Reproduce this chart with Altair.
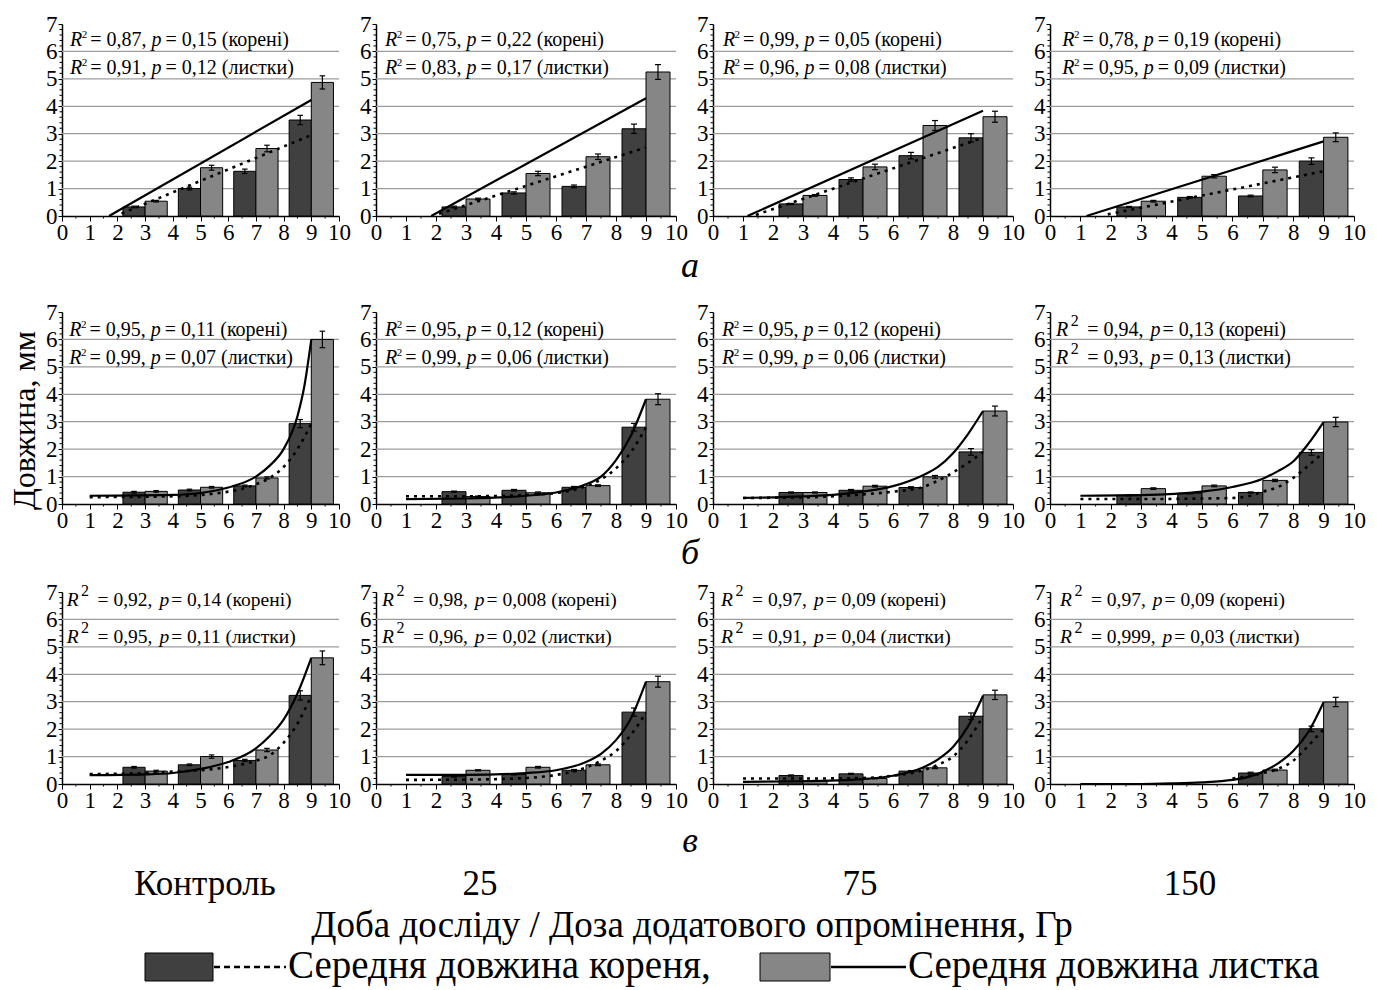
import altair as alt
import pandas as pd

FONT = "Liberation Serif"
ROOT_FILL = "#404040"
LEAF_FILL = "#868686"
GRID_COLOR = "#9c9c9c"

# ---------------- data ----------------
row_letters = ["а", "б", "в"]
doses = ["Контроль", "25", "75", "150"]
days = [2, 4, 6, 8]
x_ticks = list(range(0, 11))
y_ticks = list(range(0, 8))
grid_levels = [1, 2, 3, 4, 5, 6]
y_minor = [0.2, 0.4, 0.6, 0.8, 1.2, 1.4, 1.6, 1.8, 2.2, 2.4, 2.6, 2.8, 3.2, 3.4, 3.6, 3.8,
           4.2, 4.4, 4.6, 4.8, 5.2, 5.4, 5.6, 5.8, 6.2, 6.4, 6.6, 6.8]
x_minor = [0.5, 1.5, 2.5, 3.5, 4.5, 5.5, 6.5, 7.5, 8.5, 9.5]

# mean lengths [row][column][day]
root_mean = [
    [[0.33, 1.00, 1.63, 3.50], [0.33, 0.84, 1.08, 3.18], [0.44, 1.33, 2.20, 2.85], [0.33, 0.68, 0.73, 2.00]],
    [[0.43, 0.51, 0.66, 2.93], [0.45, 0.50, 0.61, 2.80], [0.42, 0.50, 0.60, 1.90], [0.32, 0.39, 0.42, 1.88]],
    [[0.61, 0.70, 0.86, 3.23], [0.27, 0.35, 0.50, 2.62], [0.31, 0.37, 0.47, 2.47], [0.00, 0.00, 0.40, 2.01]],
]
root_err = [
    [[0.03, 0.05, 0.08, 0.17], [0.03, 0.04, 0.05, 0.17], [0.02, 0.06, 0.12, 0.15], [0.02, 0.03, 0.03, 0.12]],
    [[0.03, 0.03, 0.03, 0.15], [0.02, 0.03, 0.03, 0.14], [0.02, 0.03, 0.03, 0.12], [0.02, 0.02, 0.02, 0.10]],
    [[0.03, 0.03, 0.04, 0.17], [0.02, 0.02, 0.03, 0.15], [0.02, 0.02, 0.02, 0.12], [0.00, 0.00, 0.03, 0.10]],
]
leaf_mean = [
    [[0.54, 1.76, 2.46, 4.87], [0.62, 1.55, 2.16, 5.25], [0.75, 1.79, 3.30, 3.62], [0.54, 1.45, 1.68, 2.87]],
    [[0.46, 0.61, 0.95, 6.00], [0.27, 0.41, 0.67, 3.82], [0.42, 0.65, 0.99, 3.39], [0.56, 0.66, 0.86, 2.99]],
    [[0.47, 1.00, 1.24, 4.60], [0.50, 0.61, 0.70, 3.73], [0.12, 0.20, 0.59, 3.25], [0.00, 0.00, 0.51, 2.99]],
]
leaf_err = [
    [[0.03, 0.09, 0.12, 0.24], [0.03, 0.08, 0.10, 0.27], [0.03, 0.10, 0.18, 0.20], [0.03, 0.06, 0.10, 0.16]],
    [[0.03, 0.03, 0.04, 0.30], [0.02, 0.03, 0.03, 0.20], [0.02, 0.03, 0.05, 0.18], [0.03, 0.03, 0.04, 0.17]],
    [[0.03, 0.06, 0.06, 0.25], [0.02, 0.03, 0.03, 0.20], [0.01, 0.01, 0.03, 0.17], [0.00, 0.00, 0.03, 0.17]],
]

# trend lines: (x list, y list)
root_trend = [
    [([2.15, 9], [0.09, 2.95]), ([2.1, 9], [0.08, 2.5]), ([1.43, 9], [0.04, 2.85]), ([1.9, 9], [0.06, 1.63])],
    [
        ([1, 4, 5, 6, 6.5, 7, 7.5, 8, 8.5, 9], [0.25, 0.28, 0.33, 0.45, 0.55, 0.72, 0.95, 1.35, 2.0, 2.93]),
        ([1, 3, 5, 6, 7, 7.5, 8, 8.5, 9], [0.28, 0.28, 0.33, 0.4, 0.65, 0.9, 1.3, 1.9, 2.8]),
        ([1, 3, 5, 6, 7, 7.5, 8, 8.5, 9], [0.22, 0.24, 0.35, 0.45, 0.62, 0.85, 1.15, 1.5, 1.9]),
        ([1, 3, 5, 6, 6.5, 7, 7.5, 8, 8.5, 9], [0.18, 0.18, 0.2, 0.22, 0.28, 0.45, 0.62, 0.95, 1.4, 1.88]),
    ],
    [
        ([1, 3, 4, 5, 6, 7, 7.5, 8, 8.5, 9], [0.36, 0.4, 0.45, 0.5, 0.62, 0.85, 1.05, 1.5, 2.2, 3.23]),
        ([1, 3, 5, 6, 7, 7.5, 8, 8.5, 9], [0.15, 0.16, 0.22, 0.33, 0.6, 0.85, 1.2, 1.8, 2.6]),
        ([1, 3, 5, 6, 7, 7.5, 8, 8.5, 9], [0.2, 0.2, 0.22, 0.3, 0.5, 0.7, 1.0, 1.6, 2.47]),
        ([6, 6.5, 7, 7.5, 8, 8.5, 9], [0.2, 0.28, 0.4, 0.55, 0.85, 1.4, 2.0]),
    ],
]
leaf_trend = [
    [([1.7, 9], [0.0, 4.23]), ([1.84, 9], [0.0, 4.29]), ([1.15, 9], [0.0, 3.84]), ([1.2, 9], [0.0, 2.72])],
    [
        ([1, 4, 5, 6, 7, 7.5, 8, 8.5, 8.75, 9], [0.3, 0.33, 0.4, 0.6, 1.0, 1.4, 2.0, 3.2, 4.3, 6.0]),
        ([1, 3, 5, 6, 7, 7.5, 8, 8.5, 9], [0.18, 0.2, 0.3, 0.42, 0.72, 1.0, 1.6, 2.5, 3.82]),
        ([1, 3, 4, 5, 6, 7, 7.5, 8, 8.5, 9], [0.22, 0.28, 0.33, 0.45, 0.65, 1.05, 1.35, 1.85, 2.55, 3.39]),
        ([1, 3, 5, 6, 7, 7.5, 8, 8.5, 9], [0.3, 0.32, 0.45, 0.62, 0.92, 1.2, 1.55, 2.2, 2.99]),
    ],
    [
        ([1, 3, 4, 5, 6, 7, 7.5, 8, 8.5, 9], [0.32, 0.35, 0.4, 0.55, 0.8, 1.3, 1.75, 2.35, 3.3, 4.6]),
        ([1, 3, 5, 6, 7, 7.5, 8, 8.5, 9], [0.33, 0.33, 0.4, 0.5, 0.8, 1.1, 1.6, 2.4, 3.73]),
        ([1, 3, 5, 6, 7, 7.5, 8, 8.5, 9], [0.08, 0.1, 0.18, 0.3, 0.6, 0.9, 1.35, 2.1, 3.22]),
        ([1, 3, 4, 5, 6, 6.5, 7, 7.5, 8, 8.5, 9], [0.0, 0.0, 0.02, 0.06, 0.15, 0.25, 0.45, 0.75, 1.2, 1.9, 2.98]),
    ],
]

# statistics text
r2_root = [["0,87", "0,75", "0,99", "0,78"], ["0,95", "0,95", "0,95", "0,94"], ["0,92", "0,98", "0,97", "0,97"]]
p_root = [["0,15", "0,22", "0,05", "0,19"], ["0,11", "0,12", "0,12", "0,13"], ["0,14", "0,008", "0,09", "0,09"]]
r2_leaf = [["0,91", "0,83", "0,96", "0,95"], ["0,99", "0,99", "0,99", "0,93"], ["0,95", "0,96", "0,91", "0,999"]]
p_leaf = [["0,12", "0,17", "0,08", "0,09"], ["0,07", "0,06", "0,06", "0,13"], ["0,11", "0,02", "0,04", "0,03"]]
root_word = "корені"
leaf_word = "листки"

# ---------------- layout / style ----------------
PANEL_W = [277, 300, 300, 304]
PANEL_H = 192
TEXT_X = [[0.29, 0.30, 0.33, 0.40], [0.26, 0.30, 0.30, 0.20], [0.17, 0.20, 0.27, 0.33]]
TEXT_Y1 = [6.43, 6.35, 6.72]
TEXT_Y2 = [5.40, 5.31, 5.36]
BIG_SUP = [[False] * 4, [False, False, False, True], [True] * 4]
ANN_SIZE = [20, 20, 19.5]

TIMES = {",": 0.25, " ": 0.25, "=": 0.564, ".": 0.25}


def text_w(s, size):
    return sum(TIMES.get(ch, 0.5) for ch in s) * size


x_axis = alt.Axis(values=x_ticks, format="d", title=None, grid=False, labelFont=FONT,
                  labelFontSize=23, labelColor="black", labelPadding=0, tickColor="black",
                  tickSize=5, tickWidth=1, domainColor="black", domainWidth=1.5,
                  labelFlush=False, labelOverlap=False)
Y_KW = dict(values=y_ticks, format="d", grid=False, labelFont=FONT, labelFontSize=23,
            labelColor="black", labelPadding=1, tickColor="black", tickSize=4, tickWidth=1,
            domainColor="black", domainWidth=1.5, labelFlush=False, labelOverlap=False)


def annotation_layers(xd, yd, r2, p, word, big, size, xs, ys, y_axis):
    wR = 0.611 * size
    if big:
        sup_size, sup_dy = 16, -9
        sup_dx = wR + 2.5
        eq_dx = sup_dx + 0.5 * sup_size + 8.5
        gap_p, gap_rest = 7, 2
    else:
        sup_size, sup_dy = 11, -5
        sup_dx = wR - 0.5
        eq_dx = sup_dx + 0.5 * sup_size + 3
        gap_p, gap_rest = 5, 4
    mid = f"= {r2},"
    p_dx = eq_dx + text_w(mid, size) + gap_p
    rest_dx = p_dx + 0.5 * size + gap_rest
    pieces = [
        ("R", 0, size, "italic", 0),
        ("2", sup_dx, sup_size, "normal", sup_dy),
        (mid, eq_dx, size, "normal", 0),
        ("p", p_dx, size, "italic", 0),
        (f"= {p} ({word})", rest_dx, size, "normal", 0),
    ]
    df = pd.DataFrame({"k": [0]})
    layers = []
    for txt, dx, fs, style, dy in pieces:
        layers.append(
            alt.Chart(df)
            .mark_text(align="left", baseline="middle", font=FONT, fontSize=fs,
                       fontStyle=style, color="black", dx=dx, dy=dy)
            .encode(x=alt.XDatum(xd, scale=xs, axis=x_axis, type="quantitative"),
                    y=alt.YDatum(yd, scale=ys, axis=y_axis, type="quantitative"),
                    text=alt.value(txt))
        )
    return layers


def make_panel(r, c):
    W = PANEL_W[c]
    xs = alt.Scale(domain=[0, 10], nice=False, zero=False)
    ys = alt.Scale(domain=[0, 7], nice=False)
    if c == 0:
        y_axis = alt.Axis(title="Довжина, мм", titleFont=FONT, titleFontSize=32,
                          titleFontWeight="normal", titleColor="black", titlePadding=4,
                          titleY=PANEL_H / 2 + 12,
                          titleOpacity=1 if r == 1 else 0, **Y_KW)
    else:
        y_axis = alt.Axis(title=None, **Y_KW)

    bars, err, caps = [], [], []
    for i, d in enumerate(days):
        for series, mean, e, lo in (("root", root_mean, root_err, 0.2), ("leaf", leaf_mean, leaf_err, 1.0)):
            v = mean[r][c][i]
            ev = e[r][c][i]
            if v <= 0:
                continue
            x0, x1 = d + lo, d + lo + 0.8
            xc = (x0 + x1) / 2
            bars.append({"x0": x0, "x1": x1, "v": v, "s": series})
            err.append({"xc": xc, "lo": v - ev, "hi": v + ev})
            for yy in (v - ev, v + ev):
                caps.append({"cl": xc - 0.1, "cr": xc + 0.1, "cy": yy})

    grid = (
        alt.Chart(pd.DataFrame({"g": grid_levels}))
        .mark_rule(color=GRID_COLOR, strokeWidth=1.3)
        .encode(y=alt.Y("g:Q", scale=ys, axis=y_axis), x=alt.value(0), x2=alt.value(W))
    )
    yminor = (
        alt.Chart(pd.DataFrame({"m": y_minor}))
        .mark_rule(color="black", strokeWidth=1)
        .encode(y=alt.Y("m:Q", scale=ys, axis=y_axis), x=alt.value(-2.5), x2=alt.value(0))
    )
    xminor = (
        alt.Chart(pd.DataFrame({"m": x_minor}))
        .mark_rule(color="black", strokeWidth=1)
        .encode(x=alt.X("m:Q", scale=xs, axis=x_axis), y=alt.value(PANEL_H), y2=alt.value(PANEL_H + 2.5))
    )
    rects = (
        alt.Chart(pd.DataFrame(bars))
        .mark_rect(stroke="black", strokeWidth=1)
        .encode(
            x=alt.X("x0:Q", scale=xs, axis=x_axis),
            x2="x1:Q",
            y=alt.Y("v:Q", scale=ys, axis=y_axis),
            y2=alt.datum(0),
            fill=alt.Fill("s:N", scale=alt.Scale(domain=["root", "leaf"], range=[ROOT_FILL, LEAF_FILL]), legend=None),
        )
    )
    ebar = (
        alt.Chart(pd.DataFrame(err))
        .mark_rule(color="black", strokeWidth=1.2)
        .encode(x=alt.X("xc:Q", scale=xs, axis=x_axis), y=alt.Y("lo:Q", scale=ys, axis=y_axis), y2="hi:Q")
    )
    ecap = (
        alt.Chart(pd.DataFrame(caps))
        .mark_rule(color="black", strokeWidth=1.2)
        .encode(x=alt.X("cl:Q", scale=xs, axis=x_axis), x2="cr:Q", y=alt.Y("cy:Q", scale=ys, axis=y_axis))
    )
    rtx, rty = root_trend[r][c]
    ltx, lty = leaf_trend[r][c]
    interp = "linear" if r == 0 else "monotone"
    root_line = (
        alt.Chart(pd.DataFrame({"tx": rtx, "ty": rty}))
        .mark_line(color="black", strokeWidth=2.6, strokeDash=[3, 5], interpolate=interp)
        .encode(x=alt.X("tx:Q", scale=xs, axis=x_axis), y=alt.Y("ty:Q", scale=ys, axis=y_axis))
    )
    leaf_line = (
        alt.Chart(pd.DataFrame({"tx": ltx, "ty": lty}))
        .mark_line(color="black", strokeWidth=2.2, interpolate=interp)
        .encode(x=alt.X("tx:Q", scale=xs, axis=x_axis), y=alt.Y("ty:Q", scale=ys, axis=y_axis))
    )
    size = ANN_SIZE[r]
    texts = annotation_layers(TEXT_X[r][c], TEXT_Y1[r], r2_root[r][c], p_root[r][c], root_word,
                              BIG_SUP[r][c], size, xs, ys, y_axis)
    texts += annotation_layers(TEXT_X[r][c], TEXT_Y2[r], r2_leaf[r][c], p_leaf[r][c], leaf_word,
                               BIG_SUP[r][c], size, xs, ys, y_axis)

    return alt.layer(grid, yminor, xminor, rects, ebar, ecap, root_line, leaf_line, *texts).properties(
        width=W, height=PANEL_H)


one = pd.DataFrame({"k": [0]})
LETTER_X = 628
TW = 1290


def letter_chart(letter, y, h):
    return (
        alt.Chart(one)
        .mark_text(font=FONT, fontSize=36, fontStyle="italic", align="center", baseline="middle", color="black")
        .encode(x=alt.value(LETTER_X), y=alt.value(y), text=alt.value(letter))
        .properties(width=TW, height=h)
    )


rows = [alt.hconcat(*[make_panel(r, c) for c in range(4)], spacing=8) for r in range(3)]

# ---------------- bottom block: letter в, doses, caption, legend ----------------
dose_x = [143, 418, 798, 1128]
caption = "Доба досліду / Доза додатового опромінення, Гр"
legend_labels = ["Середня довжина кореня,", "Середня довжина листка"]
legend_fill = [ROOT_FILL, LEAF_FILL]
legend_dash = [[6, 4], [1, 0]]
legend_box_x = [83, 698]
legend_box_w = [68, 70]
legend_line_w = [72, 75]

bottom_layers = [
    alt.Chart(one).mark_text(font=FONT, fontSize=36, fontStyle="italic", align="center", baseline="middle",
                             color="black")
    .encode(x=alt.value(LETTER_X), y=alt.value(29), text=alt.value(row_letters[2]))
]
for lab, xx in zip(doses, dose_x):
    bottom_layers.append(
        alt.Chart(one).mark_text(font=FONT, fontSize=35, align="center", baseline="middle", color="black")
        .encode(x=alt.value(xx), y=alt.value(72), text=alt.value(lab))
    )
bottom_layers.append(
    alt.Chart(one).mark_text(font=FONT, fontSize=37, align="center", baseline="middle", color="black")
    .encode(x=alt.value(630), y=alt.value(114), text=alt.value(caption))
)
for i in range(2):
    bx = legend_box_x[i]
    bw = legend_box_w[i]
    lw = legend_line_w[i]
    bottom_layers.append(
        alt.Chart(one).mark_rect(fill=legend_fill[i], stroke="black", strokeWidth=1)
        .encode(x=alt.value(bx), x2=alt.value(bx + bw), y=alt.value(141), y2=alt.value(169))
    )
    bottom_layers.append(
        alt.Chart(one).mark_rule(color="black", strokeWidth=2.4, strokeDash=legend_dash[i])
        .encode(x=alt.value(bx + bw + 1), x2=alt.value(bx + bw + 1 + lw), y=alt.value(155))
    )
    bottom_layers.append(
        alt.Chart(one).mark_text(font=FONT, fontSize=39, align="left", baseline="middle", color="black")
        .encode(x=alt.value(bx + bw + lw + 3), y=alt.value(154), text=alt.value(legend_labels[i]))
    )
bottom = alt.layer(*bottom_layers).properties(width=TW, height=176)

chart = (
    alt.vconcat(rows[0], letter_chart(row_letters[0], 22, 57), rows[1],
                letter_chart(row_letters[1], 21, 49), rows[2], bottom, spacing=0)
    .properties(padding={"left": 8, "top": 13, "right": 0, "bottom": 0}, background="white")
    .configure_view(stroke=None)
    .configure_axis(labelFont=FONT, labelFontSize=23, labelColor="black", titleFont=FONT)
)

chart.save("out.html", embed_options={"renderer": "svg", "actions": False})
